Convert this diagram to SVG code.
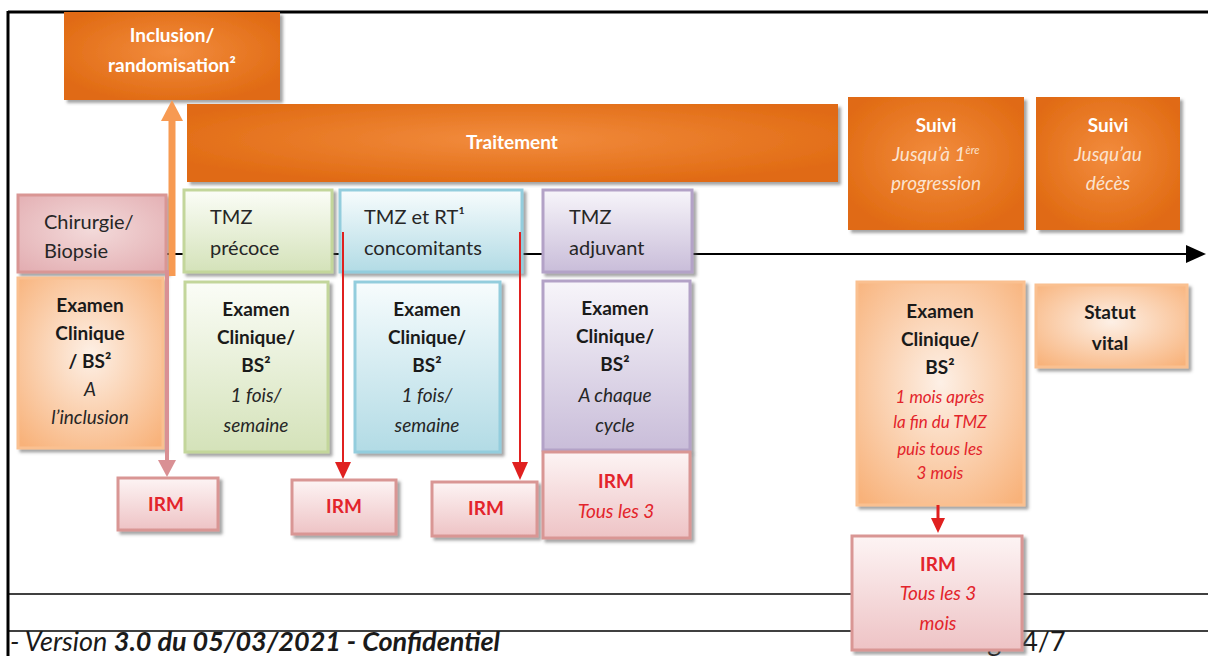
<svg xmlns="http://www.w3.org/2000/svg" width="1208" height="656" viewBox="0 0 1208 656">
  <style>
    text { font-family: Lato, "Open Sans", "Liberation Sans", sans-serif; }
    .w { fill: #ffffff; font-weight: bold; font-size: 19px; text-anchor: middle; }
    .wi { fill: #fbe3cf; font-style: italic; font-size: 19px; text-anchor: middle; }
    .ph { fill: #262626; font-size: 20px; }
    .b { fill: #1a1a1a; font-weight: bold; font-size: 19px; text-anchor: middle; }
    .i { fill: #262626; font-style: italic; font-size: 19px; text-anchor: middle; }
    .ri { fill: #e3242b; font-style: italic; font-size: 17px; text-anchor: middle; }
    .rb { fill: #e3242b; font-weight: bold; font-size: 19px; text-anchor: middle; }
    .rii { fill: #e3242b; font-style: italic; font-size: 19px; text-anchor: middle; }
    .foot { fill: #1a1a1a; font-size: 27px; }
    .frame { stroke: #000; fill: none; }
    .dark { fill: url(#gOrange); filter: url(#sh); }
    .pink { fill: url(#gPink); stroke: #d99694; stroke-width: 3; filter: url(#sh); }
    .irm { fill: url(#gIrm); stroke: #d99694; stroke-width: 3; filter: url(#sh); }
    .green { fill: url(#gGreen); stroke: #c3d69b; stroke-width: 3; filter: url(#sh); }
    .blue { fill: url(#gBlue); stroke: #93cddd; stroke-width: 3; filter: url(#sh); }
    .purple { fill: url(#gPurple); stroke: #b3a2c7; stroke-width: 3; filter: url(#sh); }
    .lor { fill: url(#gLight); stroke: #fac090; stroke-width: 3; filter: url(#sh); }
  </style>
  <defs>
    <filter id="sh" x="-10%" y="-10%" width="125%" height="125%">
      <feDropShadow dx="3" dy="3" stdDeviation="1.5" flood-color="#5a5a5a" flood-opacity="0.55"/>
    </filter>
    <radialGradient id="gOrange" cx="0.5" cy="0.45" r="0.6">
      <stop offset="0" stop-color="#f28c3e"/>
      <stop offset="1" stop-color="#e06a12"/>
    </radialGradient>
    <radialGradient id="gPink" cx="0.5" cy="0.45" r="0.7">
      <stop offset="0" stop-color="#f3dada"/>
      <stop offset="1" stop-color="#e3aeb2"/>
    </radialGradient>
    <linearGradient id="gIrm" x1="0" y1="0" x2="0" y2="1">
      <stop offset="0" stop-color="#fdf4f4"/>
      <stop offset="1" stop-color="#eec3c5"/>
    </linearGradient>
    <linearGradient id="gGreen" x1="0" y1="0" x2="0" y2="1">
      <stop offset="0" stop-color="#fbfdf7"/>
      <stop offset="1" stop-color="#d4e2b9"/>
    </linearGradient>
    <linearGradient id="gBlue" x1="0" y1="0" x2="0" y2="1">
      <stop offset="0" stop-color="#f7fcfd"/>
      <stop offset="1" stop-color="#b2dbe5"/>
    </linearGradient>
    <linearGradient id="gPurple" x1="0" y1="0" x2="0" y2="1">
      <stop offset="0" stop-color="#f7f5fa"/>
      <stop offset="1" stop-color="#c9bdd9"/>
    </linearGradient>
    <radialGradient id="gLight" cx="0.5" cy="0.45" r="0.7">
      <stop offset="0" stop-color="#fdf0e6"/>
      <stop offset="1" stop-color="#f8b27a"/>
    </radialGradient>
  </defs>

  <!-- page frame and footer rules -->
  <g id="page">
    <line class="frame" x1="8" y1="12" x2="1208" y2="12" stroke-width="3"/>
    <line class="frame" x1="8" y1="11" x2="8" y2="656" stroke-width="3"/>
    <line class="frame" x1="8" y1="594" x2="1208" y2="594" stroke-width="1.5"/>
    <line class="frame" x1="8" y1="631" x2="1208" y2="631" stroke-width="1.5"/>
    <text class="foot" x="10" y="651"><tspan font-style="italic">- Version </tspan><tspan font-style="italic" font-weight="bold">3.0 du 05/03/2021 - Confidentiel</tspan></text>
    <text class="foot" x="958" y="651">Page 4/7</text>
  </g>

  <!-- timeline -->
  <g id="timeline">
    <line x1="160" y1="254" x2="1188" y2="254" stroke="#000" stroke-width="2"/>
    <path d="M1186,245 L1206,254 L1186,263 z" fill="#000"/>
  </g>

  <!-- phase headers -->
  <g id="inclusion">
    <rect class="dark" x="64" y="12" width="216" height="88"/>
    <text class="w" x="172" y="42">Inclusion/</text>
    <text class="w" x="172" y="72">randomisation²</text>
  </g>
  <g id="traitement">
    <rect class="dark" x="187" y="104" width="651" height="78"/>
    <text class="w" x="512" y="149">Traitement</text>
  </g>
  <g id="suivi-progression">
    <rect class="dark" x="848" y="97" width="176" height="133"/>
    <text class="w" x="936" y="132">Suivi</text>
    <text class="wi" x="936" y="161">Jusqu’à 1<tspan font-size="11" dy="-7">ère</tspan></text>
    <text class="wi" x="936" y="190">progression</text>
  </g>
  <g id="suivi-deces">
    <rect class="dark" x="1036" y="97" width="144" height="133"/>
    <text class="w" x="1108" y="132">Suivi</text>
    <text class="wi" x="1108" y="161">Jusqu’au</text>
    <text class="wi" x="1108" y="190">décès</text>
  </g>

  <!-- treatment phases on the timeline -->
  <g id="chirurgie">
    <rect class="pink" x="18" y="195" width="148" height="77"/>
    <text class="ph" x="44" y="229">Chirurgie/</text>
    <text class="ph" x="44" y="258">Biopsie</text>
  </g>
  <g id="tmz-precoce">
    <rect class="green" x="184" y="190" width="148" height="82"/>
    <text class="ph" x="210" y="224">TMZ</text>
    <text class="ph" x="210" y="255">précoce</text>
  </g>
  <g id="tmz-rt">
    <rect class="blue" x="340" y="190" width="182" height="82"/>
    <text class="ph" x="364" y="224">TMZ et RT¹</text>
    <text class="ph" x="364" y="255">concomitants</text>
  </g>
  <g id="tmz-adjuvant">
    <rect class="purple" x="543" y="190" width="149" height="82"/>
    <text class="ph" x="569" y="224">TMZ</text>
    <text class="ph" x="569" y="255">adjuvant</text>
  </g>

  <!-- clinical exams -->
  <g id="exam-inclusion">
    <rect class="lor" x="18" y="278" width="145" height="170"/>
    <text class="b" x="90" y="312">Examen</text>
    <text class="b" x="90" y="340">Clinique</text>
    <text class="b" x="90" y="368">/ BS²</text>
    <text class="i" x="90" y="396" font-size="17">A</text>
    <text class="i" x="90" y="424" font-size="17">l’inclusion</text>
  </g>
  <g id="exam-precoce">
    <rect class="green" x="185" y="282" width="143" height="170"/>
    <text class="b" x="256" y="316">Examen</text>
    <text class="b" x="256" y="344">Clinique/</text>
    <text class="b" x="256" y="372">BS²</text>
    <text class="i" x="256" y="402">1 fois/</text>
    <text class="i" x="256" y="432">semaine</text>
  </g>
  <g id="exam-concomitant">
    <rect class="blue" x="355" y="282" width="145" height="170"/>
    <text class="b" x="427" y="316">Examen</text>
    <text class="b" x="427" y="344">Clinique/</text>
    <text class="b" x="427" y="372">BS²</text>
    <text class="i" x="427" y="402">1 fois/</text>
    <text class="i" x="427" y="432">semaine</text>
  </g>
  <g id="exam-adjuvant">
    <rect class="purple" x="543" y="281" width="147" height="169"/>
    <text class="b" x="615" y="315">Examen</text>
    <text class="b" x="615" y="343">Clinique/</text>
    <text class="b" x="615" y="371">BS²</text>
    <text class="i" x="615" y="402">A chaque</text>
    <text class="i" x="615" y="432">cycle</text>
  </g>
  <g id="exam-suivi">
    <rect class="lor" x="857" y="282" width="167" height="223"/>
    <text class="b" x="940" y="318">Examen</text>
    <text class="b" x="940" y="346">Clinique/</text>
    <text class="b" x="940" y="374">BS²</text>
    <text class="ri" x="940" y="403">1 mois après</text>
    <text class="ri" x="940" y="428">la fin du TMZ</text>
    <text class="ri" x="940" y="455">puis tous les</text>
    <text class="ri" x="940" y="479">3 mois</text>
  </g>
  <g id="statut-vital">
    <rect class="lor" x="1036" y="285" width="151" height="82"/>
    <text class="b" x="1110" y="319">Statut</text>
    <text class="b" x="1110" y="350">vital</text>
  </g>

  <!-- connectors -->
  <g id="connectors">
    <line x1="172" y1="276" x2="172" y2="118" stroke="#f79a52" stroke-width="7"/>
    <path d="M161,121 L172,100 L183,121 z" fill="#f79a52"/>
    <line x1="167" y1="270" x2="167" y2="462" stroke="#d99094" stroke-width="4"/>
    <path d="M158,460 L167,477 L176,460 z" fill="#d99094"/>
    <line x1="343" y1="232" x2="343" y2="464" stroke="#e0201f" stroke-width="2"/>
    <path d="M335,462 L343,479 L351,462 z" fill="#e0201f"/>
    <line x1="520" y1="232" x2="520" y2="464" stroke="#e0201f" stroke-width="2"/>
    <path d="M512,462 L520,480 L528,462 z" fill="#e0201f"/>
    <line x1="938" y1="505" x2="938" y2="520" stroke="#e0201f" stroke-width="3"/>
    <path d="M931,518 L938,533 L945,518 z" fill="#e0201f"/>
  </g>

  <!-- MRI boxes -->
  <g id="irm-1">
    <rect class="irm" x="118" y="478" width="100" height="52"/>
    <text class="rb" x="166" y="511">IRM</text>
  </g>
  <g id="irm-2">
    <rect class="irm" x="292" y="480" width="104" height="54"/>
    <text class="rb" x="344" y="513">IRM</text>
  </g>
  <g id="irm-3">
    <rect class="irm" x="432" y="482" width="105" height="54"/>
    <text class="rb" x="486" y="515">IRM</text>
  </g>
  <g id="irm-4">
    <rect class="irm" x="543" y="452" width="147" height="86"/>
    <text class="rb" x="616" y="488">IRM</text>
    <text class="rii" x="616" y="518">Tous les 3</text>
  </g>
  <g id="irm-5">
    <rect class="irm" x="852" y="536" width="170" height="114"/>
    <text class="rb" x="938" y="571">IRM</text>
    <text class="rii" x="938" y="600">Tous les 3</text>
    <text class="rii" x="938" y="630">mois</text>
  </g>
</svg>
